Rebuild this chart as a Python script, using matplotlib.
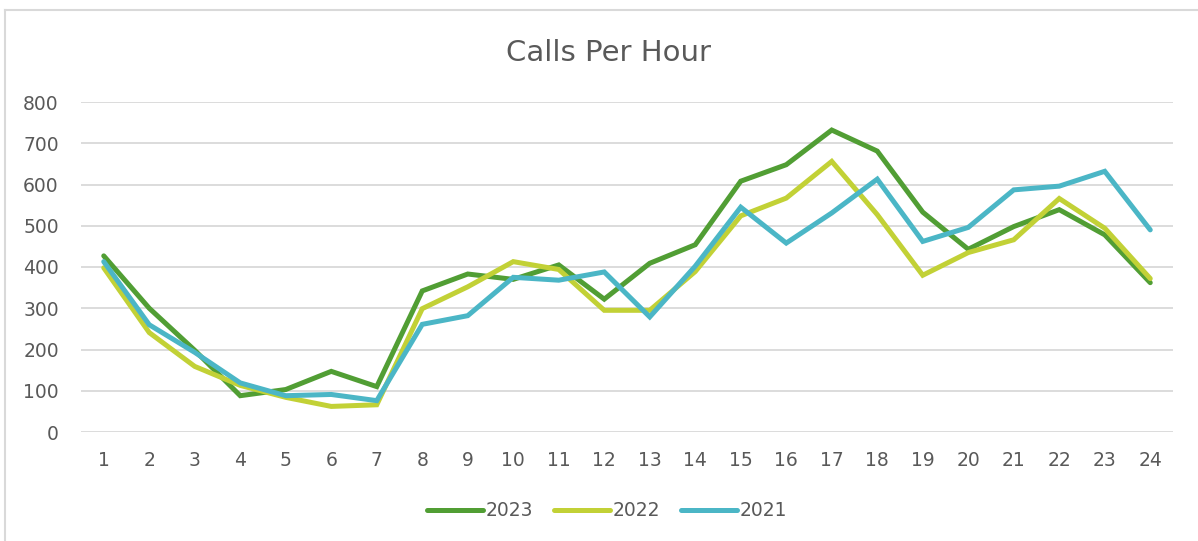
import matplotlib
matplotlib.use("Agg")
import matplotlib.pyplot as plt
from matplotlib.lines import Line2D

hours = list(range(1, 25))
calls_2023 = [427, 300, 198, 88, 103, 147, 110, 342, 383, 370, 405, 322,
              409, 454, 608, 648, 732, 681, 533, 443, 498, 539, 478, 362]
calls_2022 = [398, 241, 159, 113, 84, 62, 66, 299, 352, 413, 394, 295,
              295, 389, 524, 567, 656, 527, 380, 435, 466, 566, 494, 372]
calls_2021 = [413, 260, 193, 119, 88, 91, 76, 261, 282, 375, 368, 388,
              279, 402, 545, 458, 531, 613, 462, 496, 587, 596, 632, 490]
series_names = ["2023", "2022", "2021"]
colors = ["#519e34", "#c2d136", "#4bb6c6"]
yticks = [0, 100, 200, 300, 400, 500, 600, 700, 800]

plt.rcParams['font.family'] = ['DejaVu Sans']
txt = "#595959"

fig = plt.figure(figsize=(11.98, 5.41), dpi=100)
ax = fig.add_axes([81/1198, 1-432/541, (1173-81)/1198, (432-102)/541])

for vals, c, name in zip([calls_2023, calls_2022, calls_2021], colors, series_names):
    ax.plot(hours, vals, color=c, lw=3.6, label=name, solid_capstyle='round',
            solid_joinstyle='miter', zorder=3)

ax.set_xlim(0.5, 24.5)
ax.set_ylim(0, 800)
ax.set_yticks(yticks)
ax.set_xticks(hours)
ax.set_xticklabels([str(h) for h in hours])
ax.grid(axis='y', color='#d9d9d9', lw=1.3, zorder=0)
for s in ax.spines.values():
    s.set_visible(False)
ax.tick_params(axis='both', length=0, colors=txt, labelsize=13.5)
ax.tick_params(axis='y', pad=16)
ax.tick_params(axis='x', pad=14)

fig.text(608/1198, 1-53/541, "Calls Per Hour", ha='center', va='center',
         fontsize=21, color=txt)

handles = [Line2D([0], [0], color=c, lw=3.6, solid_capstyle='round') for c in colors]
leg = fig.legend(handles, series_names, loc='center', bbox_to_anchor=(607/1198, 1-511/541),
                 ncol=3, frameon=False, fontsize=13.5, handlelength=3.0,
                 handletextpad=0.15, columnspacing=1.1)
for t in leg.get_texts():
    t.set_color(txt)

# chart frame
fig.add_artist(Line2D([5/1198, 5/1198], [0, 1-10/541], color='#d9d9d9', lw=1.5))
fig.add_artist(Line2D([5/1198, 1], [1-10/541, 1-10/541], color='#d9d9d9', lw=1.5))

fig.savefig("out.png", dpi=100, facecolor='white')
